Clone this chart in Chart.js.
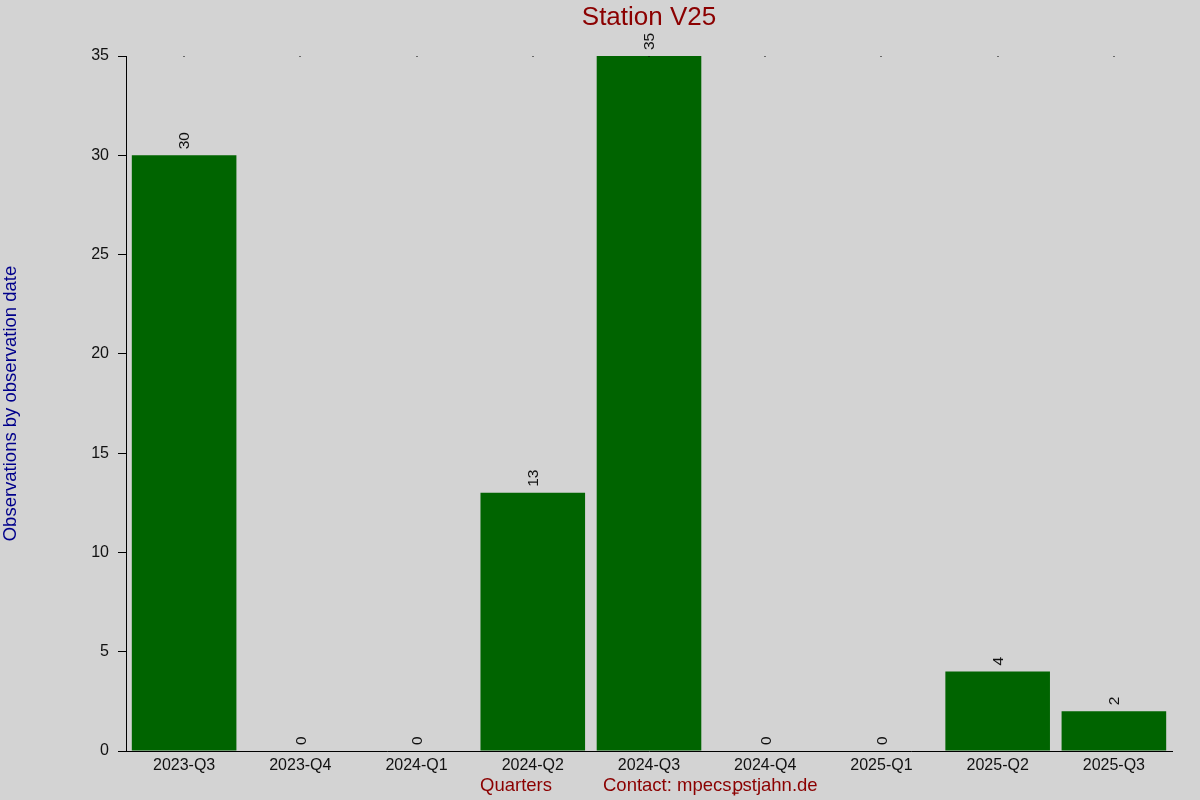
<!DOCTYPE html>
<html>
<head>
<meta charset="utf-8">
<script src="https://cdn.jsdelivr.net/npm/chart.js@4"></script>
<style>
html,body{margin:0;padding:0;background:#d3d3d3;}
canvas{display:block;}
</style>
</head>
<body>
<canvas id="c" width="1200" height="800"></canvas>
<script>
const categories = ["2023-Q3","2023-Q4","2024-Q1","2024-Q2","2024-Q3","2024-Q4","2025-Q1","2025-Q2","2025-Q3"];
const observations = [30,0,0,13,35,0,0,4,2];
const titleText = "Station V25";
const yTitle = "Observations by observation date";
const xTitle = "Quarters";
const contactText = "Contact: mpecsꝑstjahn.de";

const FONT = "'Liberation Sans', Arial, sans-serif";

const deco = {
  id: 'deco',
  beforeDraw(chart) {
    const ctx = chart.ctx;
    ctx.save();
    ctx.fillStyle = '#d3d3d3';
    ctx.fillRect(0, 0, chart.width, chart.height);
    ctx.restore();
  },
  afterDraw(chart) {
    const ctx = chart.ctx;
    const a = chart.chartArea;
    const xs = chart.scales.x;
    ctx.save();
    // top dots
    ctx.fillStyle = '#000';
    categories.forEach((c, i) => {
      const x = Math.round(xs.getPixelForValue(i));
      ctx.fillRect(x - 0.5, a.top, 1, 1);
    });
    // value labels
    ctx.font = '15.5px ' + FONT;
    ctx.fillStyle = '#111';
    const meta = chart.getDatasetMeta(0);
    meta.data.forEach((el, i) => {
      ctx.save();
      ctx.translate(el.x + 1, el.y - 6);
      ctx.rotate(-Math.PI / 2);
      ctx.textAlign = 'left';
      ctx.textBaseline = 'middle';
      ctx.fillText(String(observations[i]), 0, 0);
      ctx.restore();
    });
    // title
    ctx.font = '26px ' + FONT;
    ctx.fillStyle = '#8b0000';
    ctx.textAlign = 'center';
    ctx.textBaseline = 'middle';
    ctx.fillText(titleText, (a.left + a.right) / 2, 18);
    // y title
    ctx.save();
    ctx.translate(11, (a.top + a.bottom) / 2);
    ctx.rotate(-Math.PI / 2);
    ctx.font = '18.5px ' + FONT;
    ctx.fillStyle = '#00008b';
    ctx.fillText(yTitle, 0, 0);
    ctx.restore();
    // x titles
    ctx.font = '18.5px ' + FONT;
    ctx.fillStyle = '#8b0000';
    ctx.textAlign = 'center';
    ctx.fillText(xTitle, 516, 786);
    ctx.textAlign = 'left';
    ctx.fillText(contactText, 603, 786);
    ctx.restore();
  }
};

new Chart(document.getElementById('c'), {
  type: 'bar',
  data: {
    labels: categories,
    datasets: [{
      data: observations,
      backgroundColor: '#006400',
      borderWidth: 0,
      barPercentage: 0.9,
      categoryPercentage: 1.0
    }]
  },
  options: {
    responsive: false,
    devicePixelRatio: 1,
    animation: false,
    layout: { padding: { top: 56, right: 28, left: 0, bottom: 0 } },
    plugins: { legend: { display: false }, title: { display: false }, tooltip: { enabled: false } },
    scales: {
      x: {
        grid: { display: false, drawTicks: false },
        border: { display: true, color: '#000', width: 1 },
        ticks: { color: '#111', font: { family: FONT, size: 16 }, padding: 5, maxRotation: 0, autoSkip: false },
        afterFit(axis) { axis.height = 49; }
      },
      y: {
        min: 0, max: 35,
        grid: { display: true, drawOnChartArea: false, drawTicks: true, tickLength: 8, color: '#000' },
        border: { display: true, color: '#000', width: 1 },
        ticks: { stepSize: 5, color: '#111', font: { family: FONT, size: 16 }, padding: 9 },
        afterFit(axis) { axis.width = 126; }
      }
    }
  },
  plugins: [deco]
});
</script>
</body>
</html>
